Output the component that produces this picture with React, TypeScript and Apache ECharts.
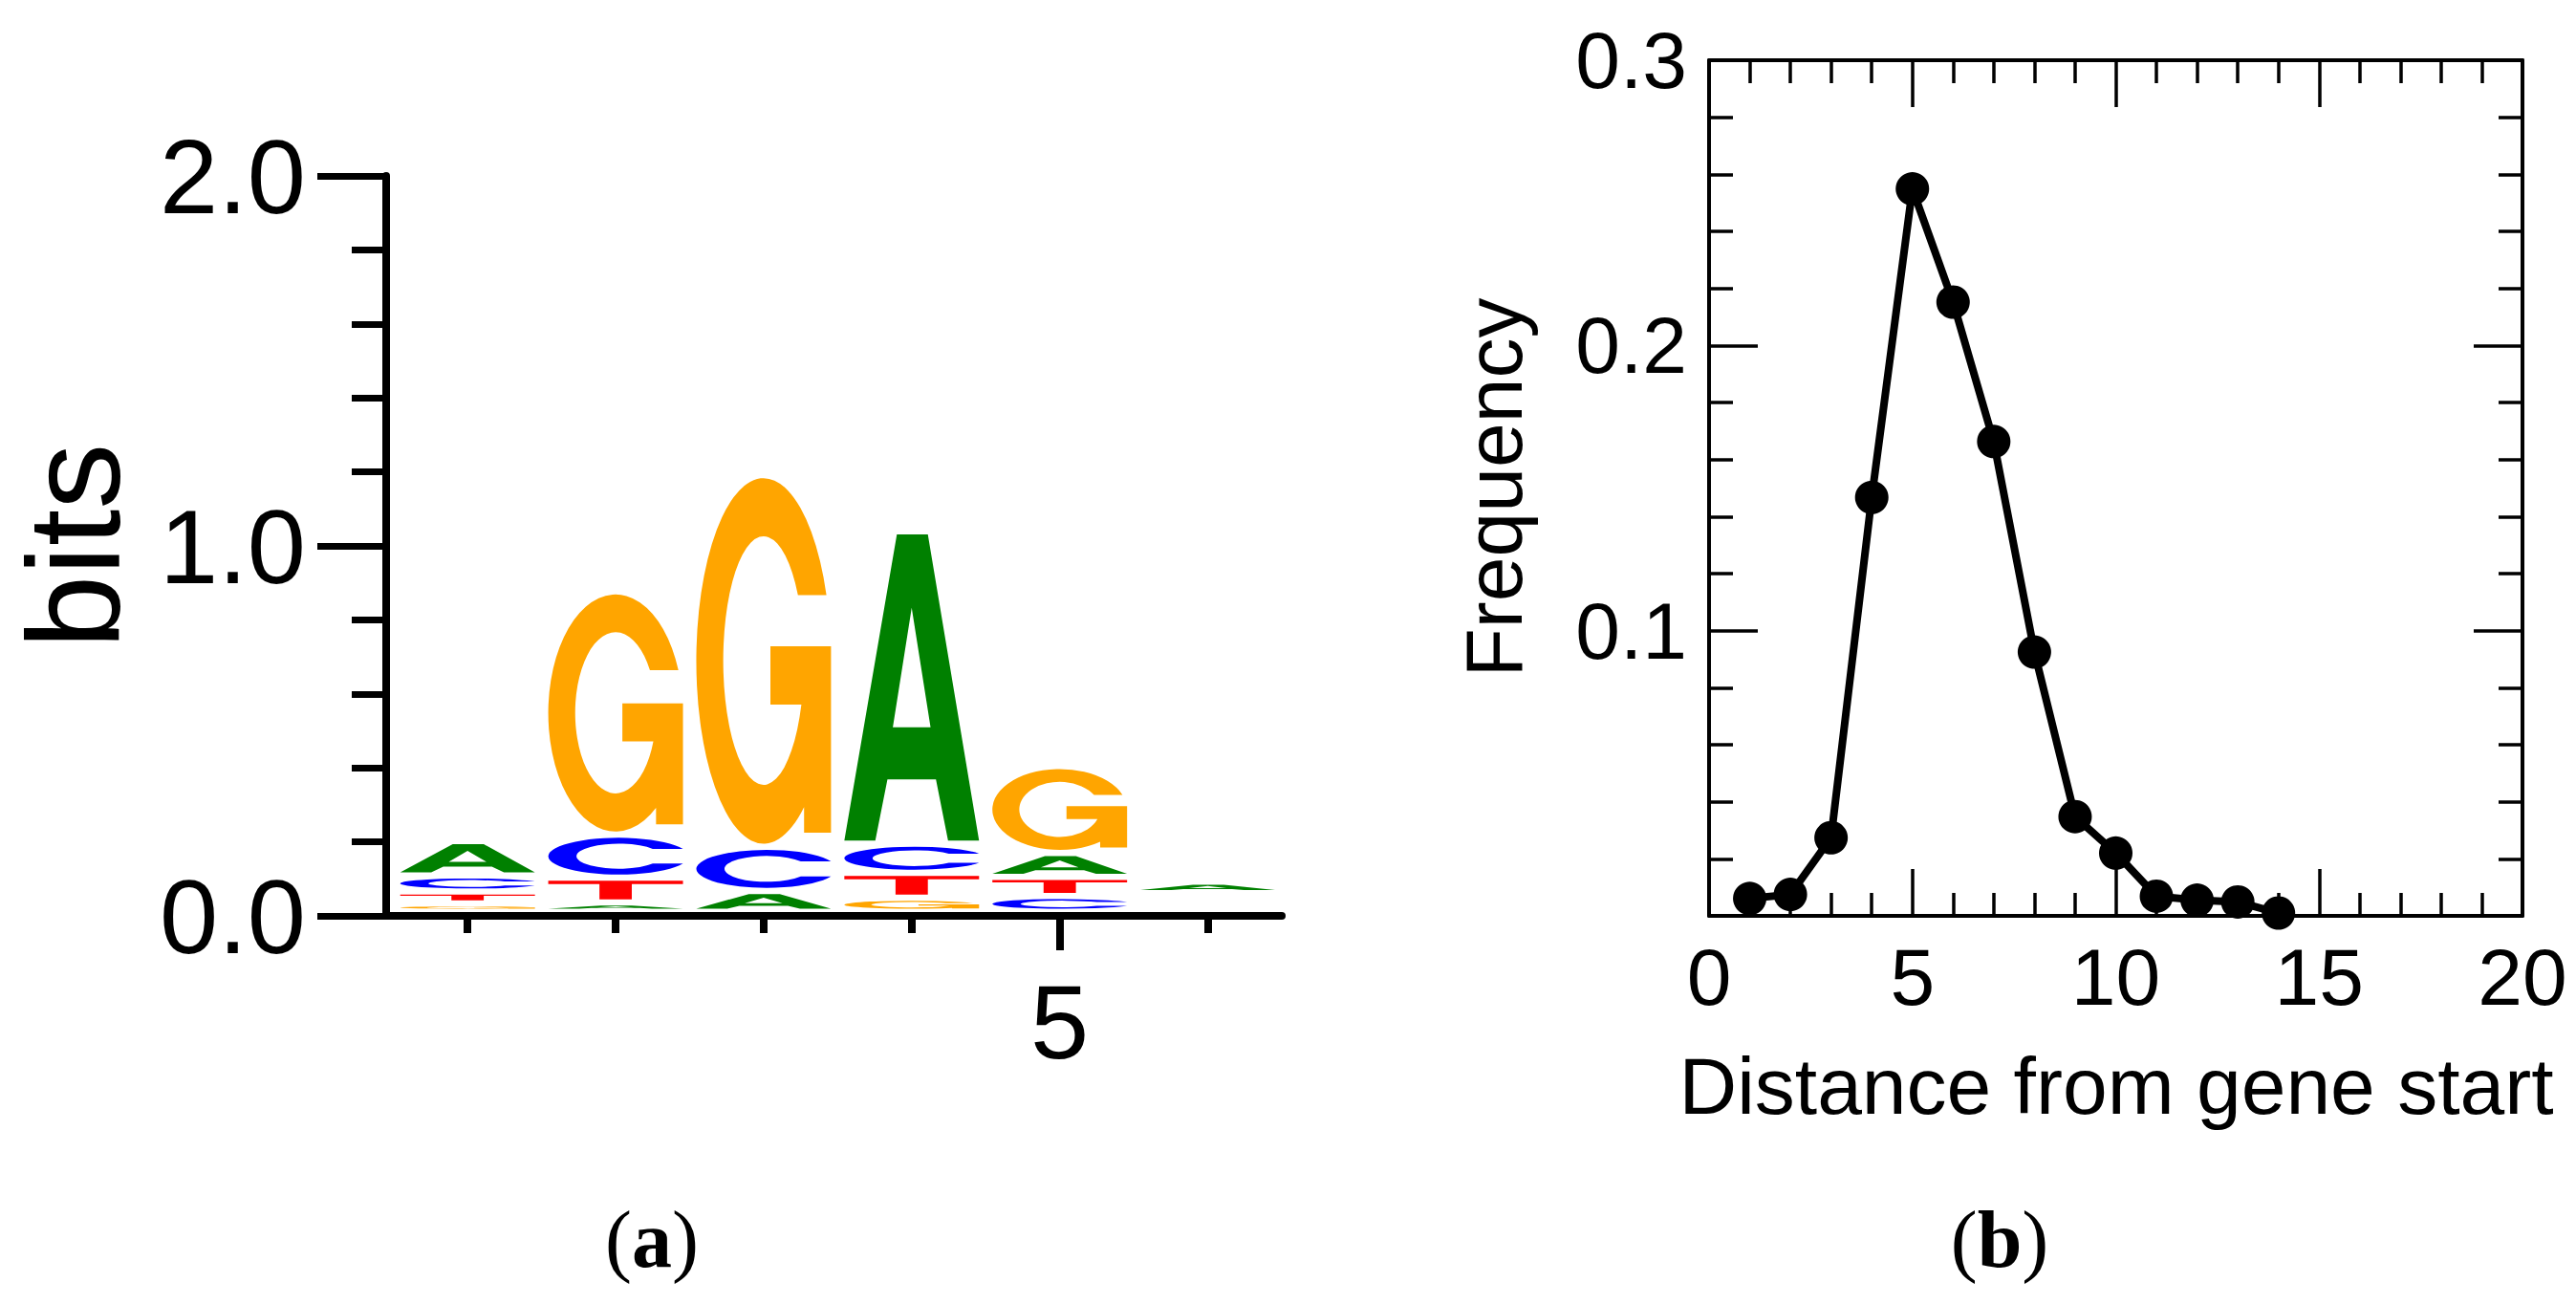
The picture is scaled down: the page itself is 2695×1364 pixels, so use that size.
import React, { useEffect, useRef } from "react";
import * as echarts from "echarts";

// ---------- Panel (a): sequence logo ----------
const logoPositions = [1, 2, 3, 4, 5, 6];
// letters of each column, stacked from bottom to top
const logoLetters = [
  ["G", "T", "C", "A"],
  ["A", "T", "C", "G"],
  ["A", "C", "G"],
  ["G", "T", "C", "A"],
  ["C", "T", "A", "G"],
  ["C", "G", "T", "A"],
];
// information content (bits) of each letter, same order
const logoBits = [
  [0.006, 0.015, 0.027, 0.076],
  [0.0085, 0.05, 0.0995, 0.641],
  [0.0395, 0.1026, 0.988],
  [0.0214, 0.0504, 0.062, 0.8276],
  [0.0258, 0.0349, 0.0478, 0.2186],
  [0, 0, 0, 0.0145],
];
const logoYLabels = [0, 1, 2];
const logoXMinorTicks = [1, 2, 3, 4, 6];
const logoXLabels = [5];

// ---------- Panel (b): frequency vs distance ----------
const distance = [1, 2, 3, 4, 5, 6, 7, 8, 9, 10, 11, 12, 13, 14];
const frequency = [
  0.0061, 0.0075, 0.0274, 0.1467, 0.2549, 0.2152, 0.1663, 0.0925, 0.0348,
  0.022, 0.0069, 0.0055, 0.0049, 0.001,
];

const SANS = "Liberation Sans";
const SERIF = "Liberation Serif";

const LETTER_INDEX: Record<string, number> = { A: 0, C: 1, G: 2, T: 3 };
const LETTER_COLORS = ["#008000", "#0000FF", "#FFA500", "#FF0000"];
const GLYPHS = [
  // A
  "M39,0 L62,0 L100,100 L77,100 L68,80 L32,80 L23,100 L0,100 Z M50,24 L36,63 L64,63 Z",
  // C
  "M95.8,30 A50,50 0 1 0 95.8,70 L74.3,70 A30,34 0 1 1 74.3,30 Z",
  // G
  "M96.6,32 A50,50 0 1 0 80,90 L80,97 L100,97 L100,46 L55,46 L55,62 L78,62 A30,34 0 1 1 75.45,32 Z",
  // T
  "M0,0 L100,0 L100,18 L62,18 L62,100 L38,100 L38,18 L0,18 Z",
];
const GLYPH_WIDTH = 0.91; // in position units
const STACK_OFFSET = 7.5; // px above the axis
const LETTER_GAP = 6.5; // px between stacked letters

function buildLogoData() {
  const out: number[][] = [];
  logoPositions.forEach((pos, c) => {
    let below = 0;
    logoLetters[c].forEach((L, k) => {
      const h = logoBits[c][k];
      out.push([pos, below, h, k, LETTER_INDEX[L]]);
      below += h;
    });
  });
  return out;
}

export default function App() {
  const ref = useRef<HTMLDivElement>(null);

  useEffect(() => {
    if (!ref.current) return;
    const chart = echarts.init(ref.current, null, { renderer: "svg" });
    const black = "#000";

    const panelLabel = (letter: string, x: number) => ({
      type: "text",
      x,
      y: 1296,
      style: {
        text: `{p|(}{b|${letter}}{p|)}`,
        textAlign: "center",
        textVerticalAlign: "middle",
        fill: black,
        rich: {
          p: { fontSize: 84, fontFamily: SERIF, fontWeight: "normal", fill: black },
          b: { fontSize: 84, fontFamily: SERIF, fontWeight: "bold", fill: black },
        },
      },
    });

    const option: any = {
      animation: false,
      backgroundColor: "#fff",
      grid: [
        { left: 404, top: 184, width: 937, height: 774 },
        { left: 1788, top: 63, width: 851, height: 895 },
      ],
      xAxis: [
        {
          gridIndex: 0,
          type: "value",
          position: "bottom",
          min: 0.45,
          max: 6.5,
          axisLine: { show: true, onZero: false, lineStyle: { color: black, width: 8 } },
          axisTick: {
            show: true,
            customValues: logoXMinorTicks,
            length: 18,
            lineStyle: { color: black, width: 8 },
          },
          axisLabel: { show: false },
          splitLine: { show: false },
        },
        {
          gridIndex: 0,
          type: "value",
          position: "bottom",
          min: 0.45,
          max: 6.5,
          axisLine: { show: false, onZero: false },
          axisTick: {
            show: true,
            customValues: logoXLabels,
            length: 36,
            lineStyle: { color: black, width: 8 },
          },
          axisLabel: {
            show: true,
            customValues: logoXLabels,
            margin: 55,
            fontSize: 110,
            fontFamily: SANS,
            color: black,
          },
          splitLine: { show: false },
        },
        {
          gridIndex: 1,
          type: "value",
          position: "bottom",
          min: 0,
          max: 20,
          interval: 5,
          axisLine: { show: true, onZero: false, lineStyle: { color: black, width: 4 } },
          axisTick: { show: true, inside: true, length: 49, lineStyle: { color: black, width: 3.5 } },
          minorTick: { show: true, splitNumber: 5, length: 24, lineStyle: { color: black, width: 3.5 } },
          axisLabel: {
            show: true,
            margin: 22,
            fontSize: 84,
            fontFamily: SANS,
            color: black,
            showMinLabel: true,
            showMaxLabel: true,
          },
          splitLine: { show: false },
          minorSplitLine: { show: false },
        },
        {
          gridIndex: 1,
          type: "value",
          position: "top",
          min: 0,
          max: 20,
          interval: 5,
          axisLine: { show: true, onZero: false, lineStyle: { color: black, width: 4 } },
          axisTick: { show: true, inside: true, length: 49, lineStyle: { color: black, width: 3.5 } },
          minorTick: { show: true, splitNumber: 5, length: 24, lineStyle: { color: black, width: 3.5 } },
          axisLabel: { show: false },
          splitLine: { show: false },
          minorSplitLine: { show: false },
        },
      ],
      yAxis: [
        {
          gridIndex: 0,
          type: "value",
          position: "left",
          min: logoYLabels[0],
          max: logoYLabels[logoYLabels.length - 1],
          interval: 1,
          axisLine: { show: true, onZero: false, lineStyle: { color: black, width: 8 } },
          axisTick: { show: true, length: 72, lineStyle: { color: black, width: 7 } },
          minorTick: { show: true, splitNumber: 5, length: 36, lineStyle: { color: black, width: 7 } },
          axisLabel: {
            show: true,
            margin: 84,
            fontSize: 110,
            fontFamily: SANS,
            color: black,
            formatter: (v: number) => v.toFixed(1),
          },
          splitLine: { show: false },
          minorSplitLine: { show: false },
        },
        {
          gridIndex: 1,
          type: "value",
          position: "left",
          min: 0,
          max: 0.3,
          interval: 0.1,
          axisLine: { show: true, onZero: false, lineStyle: { color: black, width: 4 } },
          axisTick: { show: true, inside: true, length: 51, lineStyle: { color: black, width: 3.5 } },
          minorTick: { show: true, splitNumber: 5, length: 25, lineStyle: { color: black, width: 3.5 } },
          axisLabel: {
            show: true,
            margin: 23,
            fontSize: 84,
            fontFamily: SANS,
            color: black,
            showMinLabel: false,
            formatter: (v: number) => (v === 0 ? "" : v.toFixed(1)),
          },
          splitLine: { show: false },
          minorSplitLine: { show: false },
        },
        {
          gridIndex: 1,
          type: "value",
          position: "right",
          min: 0,
          max: 0.3,
          interval: 0.1,
          axisLine: { show: true, onZero: false, lineStyle: { color: black, width: 4 } },
          axisTick: { show: true, inside: true, length: 51, lineStyle: { color: black, width: 3.5 } },
          minorTick: { show: true, splitNumber: 5, length: 25, lineStyle: { color: black, width: 3.5 } },
          axisLabel: { show: false },
          splitLine: { show: false },
          minorSplitLine: { show: false },
        },
      ],
      series: [
        {
          type: "custom",
          coordinateSystem: "cartesian2d",
          xAxisIndex: 0,
          yAxisIndex: 0,
          data: buildLogoData(),
          encode: { x: 0, y: 2 },
          renderItem: (params: any, api: any) => {
            const pos = api.value(0);
            const below = api.value(1);
            const h = api.value(2);
            const k = api.value(3);
            const li = api.value(4);
            const base = api.coord([pos, 0]);
            const pxPerBit = api.size([0, 1])[1];
            const w = api.size([GLYPH_WIDTH, 0])[0];
            const hp = h * pxPerBit;
            if (hp < 0.5) return { type: "group", children: [] };
            const bottom = base[1] - STACK_OFFSET - below * pxPerBit - k * LETTER_GAP;
            return {
              type: "path",
              shape: {
                pathData: GLYPHS[li],
                x: base[0] - w / 2,
                y: bottom - hp,
                width: w,
                height: hp,
                layout: "cover",
              },
              style: { fill: LETTER_COLORS[li], stroke: null },
            };
          },
          z: 1,
        },
        {
          type: "line",
          xAxisIndex: 2,
          yAxisIndex: 1,
          data: distance.map((d, i) => [d, frequency[i]]),
          symbol: "circle",
          symbolSize: 35,
          lineStyle: { color: black, width: 8 },
          itemStyle: { color: black },
          z: 3,
        },
      ],
      graphic: [
        {
          type: "text",
          x: 77,
          y: 571,
          rotation: Math.PI / 2,
          style: {
            text: "bits",
            font: `138px '${SANS}'`,
            fill: black,
            textAlign: "center",
            textVerticalAlign: "middle",
          },
        },
        {
          type: "text",
          x: 1563,
          y: 510,
          rotation: Math.PI / 2,
          style: {
            text: "Frequency",
            font: `84px '${SANS}'`,
            fill: black,
            textAlign: "center",
            textVerticalAlign: "middle",
          },
        },
        {
          type: "text",
          x: 2214,
          y: 1136,
          style: {
            text: "Distance from gene start",
            font: `84px '${SANS}'`,
            fill: black,
            textAlign: "center",
            textVerticalAlign: "middle",
          },
        },
        panelLabel("a", 682),
        panelLabel("b", 2092),
      ],
    };

    chart.setOption(option);
    return () => {
      chart.dispose();
    };
  }, []);

  return (
    <div
      ref={ref}
      style={{
        position: "absolute",
        left: 0,
        top: 0,
        width: "2695px",
        height: "1364px",
        background: "#fff",
      }}
    />
  );
}
